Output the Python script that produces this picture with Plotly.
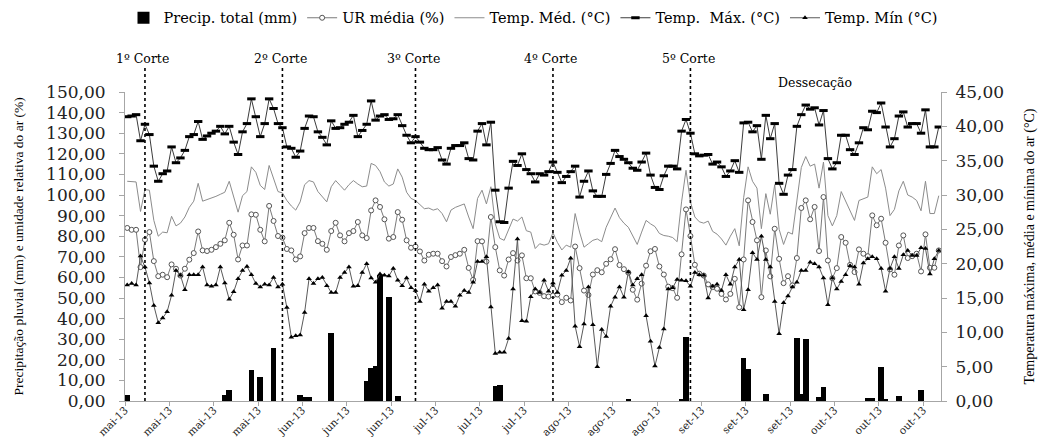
import pandas as pd
import plotly.graph_objects as go

# ---------------- data (daily, 2013-05-01 .. 2013-10-31) ----------------
start_date = "2013-05-01"
n_days = 184

temp_max = [41.4, 41.5, 41.7, 37.9, 40.3, 38.8, 34.2, 32.0, 33.1, 33.5,
            37.0, 34.7, 35.4, 36.5, 38.5, 38.8, 40.7, 38.1, 38.6, 39.0,
            39.3, 40.0, 38.9, 40.0, 37.7, 35.9, 39.2, 40.4, 44.0, 41.4,
            38.5, 40.4, 44.0, 42.6, 40.4, 39.8, 37.0, 36.8, 35.5, 36.4,
            39.7, 41.5, 41.4, 39.2, 38.4, 37.3, 40.8, 39.7, 39.8, 40.3,
            40.6, 41.6, 38.5, 39.4, 40.3, 43.7, 40.9, 41.5, 41.7, 41.0,
            41.1, 41.7, 40.1, 38.7, 37.6, 38.5, 37.7, 36.8, 36.6, 36.6,
            36.9, 35.1, 34.5, 36.8, 37.2, 37.2, 37.6, 35.3, 35.1, 39.3,
            40.4, 37.3, 40.6, 30.7, 26.1, 26.0, 31.0, 34.9, 34.3, 36.0,
            33.7, 33.1, 31.9, 33.1, 32.9, 33.4, 34.8, 33.3, 31.8, 32.7,
            33.4, 34.2, 29.7, 32.0, 33.5, 30.6, 29.8, 29.8, 33.0, 34.6,
            36.5, 35.6, 35.2, 34.7, 33.9, 33.6, 34.8, 36.1, 32.9, 31.1,
            30.8, 32.8, 34.2, 34.2, 33.8, 39.3, 41.0, 39.0, 36.0, 35.7,
            35.8, 35.9, 34.5, 34.8, 34.1, 32.7, 33.5, 35.0, 33.3, 40.5,
            40.6, 39.2, 40.1, 35.2, 41.6, 38.2, 40.4, 31.7, 30.1, 32.9,
            33.7, 40.0, 41.7, 43.1, 42.5, 42.7, 40.2, 42.3, 35.3, 33.8,
            34.7, 38.7, 38.7, 36.6, 35.9, 37.6, 39.8, 39.5, 42.2, 42.0,
            43.4, 39.9, 37.0, 38.2, 41.5, 42.1, 39.9, 40.4, 40.4, 39.0,
            42.4, 37.0, 37.0, 39.9]

temp_min = [16.9, 17.1, 16.9, 21.1, 19.5, 17.2, 13.9, 11.4, 12.1, 13.0,
            15.4, 19.0, 18.3, 16.2, 18.4, 18.4, 18.4, 19.5, 16.9, 16.7,
            16.9, 19.5, 17.2, 14.8, 15.9, 17.8, 19.0, 19.6, 18.4, 17.1,
            16.6, 17.0, 16.9, 18.0, 16.6, 17.0, 13.6, 9.3, 9.5, 9.6,
            12.9, 17.8, 17.1, 17.8, 18.0, 16.8, 15.8, 15.8, 18.0, 18.7,
            19.5, 16.7, 16.8, 18.7, 20.0, 17.9, 17.3, 18.5, 18.3, 18.2,
            19.3, 17.6, 16.8, 17.9, 16.5, 16.1, 14.5, 17.0, 16.0, 16.5,
            16.9, 13.5, 14.5, 14.5, 13.8, 15.4, 16.1, 15.8, 17.3, 20.3,
            20.3, 21.0, 13.7, 6.9, 7.1, 7.1, 9.1, 16.3, 23.6, 11.7,
            11.6, 15.2, 16.3, 15.8, 17.6, 16.0, 17.2, 15.8, 18.3, 19.0,
            20.8, 10.9, 7.9, 11.2, 16.6, 11.1, 5.0, 10.4, 9.4, 13.8,
            15.1, 16.6, 15.1, 18.8, 16.9, 17.8, 18.4, 12.4, 8.7, 5.1,
            7.8, 10.5, 16.3, 16.5, 17.7, 17.6, 17.5, 16.7, 18.7, 18.4,
            18.3, 15.0, 16.7, 17.0, 16.1, 18.4, 17.0, 19.5, 20.6, 13.3,
            16.2, 21.6, 20.6, 24.0, 20.6, 19.5, 14.5, 9.8, 14.3, 15.3,
            16.6, 17.3, 19.0, 19.0, 20.2, 20.0, 19.5, 17.9, 14.0, 17.9,
            16.3, 17.4, 18.4, 19.7, 19.5, 17.0, 20.1, 20.7, 21.0, 20.7,
            19.3, 16.0, 19.3, 21.0, 19.3, 21.3, 21.9, 21.2, 21.2, 22.3,
            22.2, 18.5, 20.7, 21.9]

temp_med = [32.0, 32.0, 31.9, 27.6, 30.8, 30.7, 26.3, 24.0, 24.6, 24.5,
            26.9, 25.5, 25.9, 26.8, 28.2, 29.1, 31.7, 29.1, 29.3, 29.6,
            29.8, 30.1, 30.4, 32.0, 29.7, 27.5, 29.9, 30.5, 34.1, 33.3,
            31.4, 30.8, 34.3, 32.4, 30.5, 30.3, 29.2, 28.4, 27.8, 29.0,
            31.5, 32.1, 31.9, 30.5, 29.8, 29.0, 31.2, 32.1, 31.4, 30.7,
            31.5, 32.1, 31.6, 31.2, 31.3, 34.6, 34.3, 33.4, 31.9, 31.3,
            31.6, 33.8, 32.6, 30.4, 29.5, 29.2, 28.6, 28.0, 28.1, 27.8,
            28.0, 27.3, 26.1, 27.8, 28.2, 28.5, 28.7, 26.8, 25.1, 29.5,
            30.7, 28.7, 31.2, 25.8, 23.7, 23.4, 25.1, 26.5, 26.2, 26.8,
            24.8, 24.6, 22.2, 22.9, 22.7, 22.9, 24.5, 23.1, 22.0, 22.7,
            22.4, 27.3, 24.6, 22.4, 22.9, 23.4, 23.6, 23.2, 25.3, 26.8,
            28.1, 26.7, 25.9, 25.3, 24.0, 22.8, 24.6, 26.3, 25.8, 25.4,
            24.4, 24.1, 24.0, 23.8, 23.2, 29.0, 33.6, 29.0, 26.8, 26.1,
            25.9, 26.2, 24.7, 24.3, 23.6, 22.7, 24.0, 25.1, 22.6, 29.6,
            34.1, 32.0, 31.0, 25.1, 30.2, 27.2, 31.5, 25.0, 22.8, 24.6,
            24.3, 29.5, 34.0, 35.6, 34.2, 34.5, 31.0, 34.8, 27.0, 25.5,
            27.0, 30.5, 29.1, 27.7, 26.3, 29.2, 29.4, 29.7, 34.1, 33.1,
            33.7, 31.0, 27.0, 27.9, 30.6, 32.0, 30.0, 29.7, 29.2, 27.7,
            32.0, 27.3, 27.3, 29.9]

ur_media = [84.0, 83.1, 83.1, 65.0, 78.3, 82.0, 67.9, 60.6, 61.3, 60.1,
            66.3, 64.2, 60.9, 64.2, 68.6, 71.8, 82.3, 73.1, 72.8, 73.4,
            74.7, 76.3, 78.0, 86.5, 80.7, 68.7, 75.5, 75.5, 90.6, 90.4,
            83.1, 77.5, 94.7, 87.4, 80.1, 79.3, 73.8, 73.1, 68.7, 70.2,
            81.5, 84.0, 84.0, 77.6, 76.3, 73.4, 82.5, 86.5, 80.4, 77.5,
            81.5, 82.5, 86.9, 80.4, 79.1, 92.5, 97.4, 94.2, 88.2, 78.8,
            79.6, 91.7, 88.0, 78.0, 74.4, 75.0, 72.6, 68.2, 71.0, 71.5,
            71.5, 67.9, 65.3, 69.9, 70.8, 71.5, 73.4, 64.6, 58.8, 77.6,
            77.5, 67.7, 89.3, 74.7, 63.4, 60.9, 68.7, 71.8, 68.2, 70.7,
            59.6, 59.6, 53.2, 52.5, 50.9, 50.7, 51.2, 51.7, 48.0, 50.1,
            48.8, 75.0, 64.5, 53.6, 51.5, 61.4, 63.5, 62.5, 66.6, 68.8,
            73.7, 66.0, 64.0, 62.3, 54.0, 49.2, 57.0, 65.7, 72.7, 73.8,
            65.3, 61.4, 55.5, 54.8, 50.1, 71.2, 93.0, 80.1, 66.1, 61.8,
            60.9, 56.6, 55.3, 54.5, 52.0, 49.3, 52.0, 59.3, 45.5, 68.7,
            97.4, 86.9, 78.0, 50.4, 73.1, 60.5, 83.6, 69.0, 57.2, 60.6,
            56.1, 69.4, 93.7, 97.4, 88.2, 94.2, 72.8, 99.0, 68.2, 59.6,
            64.5, 79.6, 76.8, 66.1, 62.6, 73.6, 71.5, 70.3, 90.1, 85.3,
            88.5, 76.8, 63.9, 61.3, 75.5, 80.4, 69.4, 70.3, 71.5, 62.9,
            80.9, 64.7, 64.7, 73.1]

# rain days (day offset from 1 May) and totals (mm)
precip_day = [0, 22, 23, 28, 30, 33, 39, 40, 41, 46, 54, 55, 56, 57, 59, 61,
              83, 84, 113, 125, 126, 139, 140, 144, 151, 152, 153, 156, 157,
              167, 168, 170, 171, 174, 179]
precip_mm = [2.7, 2.7, 5.3, 15.0, 11.7, 25.8, 2.8, 2.0, 2.0, 32.8, 9.6, 15.9,
             17.0, 61.1, 50.6, 2.5, 7.2, 7.9, 0.5, 1.0, 31.2, 21.0, 15.4, 3.5,
             30.7, 3.2, 29.9, 1.9, 7.0, 1.7, 1.5, 16.6, 0.5, 2.3, 5.2]

corte_dates = ["2013-05-05", "2013-06-05", "2013-07-05", "2013-08-05", "2013-09-05"]
corte_labels = ["1º Corte", "2º Corte", "3º Corte", "4º Corte", "5º Corte"]
dessecacao_label = "Dessecação"
dessecacao_start = "2013-09-05"
dessecacao_end = "2013-10-31 09:00"

month_pt = {5: "mai", 6: "jun", 7: "jul", 8: "ago", 9: "set", 10: "out"}
left_ticks = list(range(0, 151, 10))
right_ticks = list(range(0, 46, 5))

# ---------------- build ----------------
dates = pd.date_range(start_date, periods=n_days, freq="D")
precip_x = [dates[d] for d in precip_day]
day = pd.Timedelta(days=1)
x_lo = dates[0] - day / 2
x_hi = dates[-1] + day / 2
tick_pos = [x_lo + 10 * k * day for k in range(19)]
tick_txt = [f"{month_pt[(t + day / 2).month]}-{(t + day / 2).strftime('%y')}" for t in tick_pos]

SERIF = "Liberation Serif"
WIDE = "DejaVu Serif"

fig = go.Figure()
fig.add_trace(go.Bar(x=precip_x, y=precip_mm, name="Precip. total (mm)",
                     marker=dict(color="black", line=dict(width=0)),
                     width=1.25 * 86400000, yaxis="y"))
fig.add_trace(go.Scatter(x=dates, y=ur_media, name="UR média (%)", mode="lines+markers",
                         line=dict(color="#7a7a7a", width=1),
                         marker=dict(symbol="circle", size=5, color="white",
                                     line=dict(color="#555555", width=1)),
                         yaxis="y"))
fig.add_trace(go.Scatter(x=dates, y=temp_med, name="Temp. Méd. (°C)", mode="lines",
                         line=dict(color="#8c8c8c", width=1), yaxis="y2"))
fig.add_trace(go.Scatter(x=dates, y=temp_max, name="Temp.  Máx. (°C)", mode="lines+markers",
                         line=dict(color="#3c3c3c", width=1),
                         marker=dict(symbol="line-ew", size=6, color="black",
                                     line=dict(color="black", width=3)),
                         yaxis="y2"))
fig.add_trace(go.Scatter(x=dates, y=temp_min, name="Temp. Mín (°C)", mode="lines+markers",
                         line=dict(color="#5a5a5a", width=1),
                         marker=dict(symbol="triangle-up", size=5, color="black"),
                         yaxis="y2"))

shapes = []
annotations = []
top_line = 1.084
for cd, lab in zip(corte_dates, corte_labels):
    shapes.append(dict(type="line", xref="x", yref="paper", x0=cd, x1=cd, y0=0, y1=top_line,
                       line=dict(color="black", width=1.6, dash="dot")))
    annotations.append(dict(x=cd, y=1.11, xref="x", yref="paper", text=lab, showarrow=False,
                            xanchor="center", yanchor="middle", xshift=-2,
                            font=dict(family=WIDE, size=12.5, color="black")))

# Dessecação bracket
d0 = pd.Timestamp(dessecacao_start)
d1 = pd.Timestamp(dessecacao_end)
dm = d0 + (d1 - d0) / 2
h = pd.Timedelta(hours=20)
fmt = lambda t: t.strftime("%Y-%m-%d %H:%M:%S")
yb, yl, yp = 0.958, 0.981, 1.0
path = (f"M {fmt(d0)},{yb} Q {fmt(d0)},{yl} {fmt(d0 + h)},{yl} "
        f"L {fmt(dm - h)},{yl} Q {fmt(dm)},{yl} {fmt(dm)},{yp} "
        f"Q {fmt(dm)},{yl} {fmt(dm + h)},{yl} L {fmt(d1 - h)},{yl} "
        f"Q {fmt(d1)},{yl} {fmt(d1)},{yb}")
shapes.append(dict(type="path", xref="x", yref="paper", path=path,
                   line=dict(color="#333333", width=1.2)))
annotations.append(dict(x=dm, y=1.03, xref="x", yref="paper", text=dessecacao_label,
                        showarrow=False, xanchor="center", yanchor="middle",
                        font=dict(family=WIDE, size=12.5, color="black")))

# axis titles
annotations.append(dict(x=-0.131, y=0.5, xref="paper", yref="paper", textangle=-90,
                        xanchor="center", yanchor="middle",
                        text="Precipitação pluvial (mm) e umidade relativa do ar (%)",
                        showarrow=False, font=dict(family=SERIF, size=13.5, color="black")))
annotations.append(dict(x=1.109, y=0.5, xref="paper", yref="paper", textangle=-90,
                        xanchor="center", yanchor="middle",
                        text="Temperatura máxima, média e mínima do ar (°C)",
                        showarrow=False, font=dict(family=SERIF, size=14, color="black")))

axis_line = "#a6a6a6"
fig.update_layout(
    width=1049, height=439,
    margin=dict(l=125, r=108, t=92, b=38, autoexpand=False),
    paper_bgcolor="white", plot_bgcolor="white",
    showlegend=True,
    legend=dict(orientation="h", x=0.5, xanchor="center", y=1.24, yanchor="middle",
                font=dict(family=WIDE, size=14.5, color="black"),
                itemwidth=30, tracegroupgap=0, bgcolor="rgba(0,0,0,0)"),
    bargap=0,
    xaxis=dict(type="date", range=[x_lo, x_hi], tickmode="array", tickvals=tick_pos,
               ticktext=tick_txt, tickangle=-45, ticks="outside", ticklen=4,
               tickcolor=axis_line, showline=True, linecolor=axis_line, linewidth=1,
               showgrid=False, zeroline=False, automargin=False, ticklabelstandoff=-6,
               tickfont=dict(family=WIDE, size=10.5, color="#222222")),
    yaxis=dict(range=[0, 150], tickmode="array", tickvals=left_ticks,
               ticktext=[f"{v},00" for v in left_ticks], ticks="outside", ticklen=5,
               tickcolor=axis_line, showline=True, linecolor=axis_line, showgrid=False,
               zeroline=False, ticklabelstandoff=10, automargin=False,
               tickfont=dict(family=WIDE, size=17, color="#222222")),
    yaxis2=dict(range=[0, 45], overlaying="y", side="right", tickmode="array",
                tickvals=right_ticks, ticktext=[f"{v},00" for v in right_ticks],
                ticks="outside", ticklen=5, tickcolor=axis_line, showline=True,
                linecolor=axis_line, showgrid=False, zeroline=False, ticklabelstandoff=5,
                automargin=False,
                tickfont=dict(family=WIDE, size=17, color="#222222")),
    shapes=shapes,
    annotations=annotations,
)

fig.write_html("out.html", config={"displayModeBar": False},
               post_script="document.body.style.margin='0';document.body.style.overflow='hidden';")
